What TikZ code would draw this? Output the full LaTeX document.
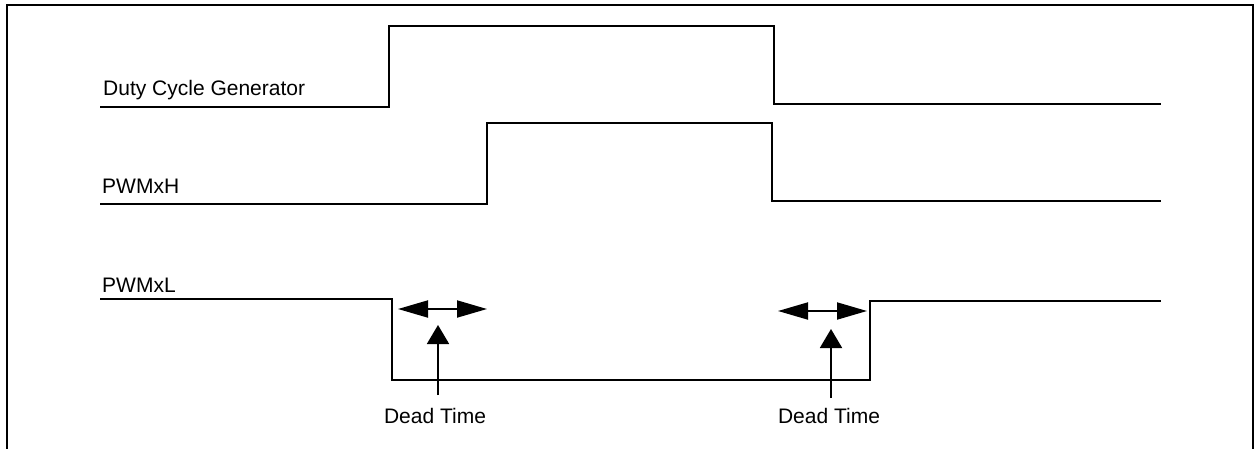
\documentclass[tikz,border=0pt]{standalone}
\usepackage{fontspec}
\setmainfont{Liberation Sans}
\usetikzlibrary{arrows.meta}
\begin{document}
\begin{tikzpicture}[x=1pt,y=-1pt,
  wave/.style={line width=2.8pt,line join=miter},
  frame/.style={line width=2.8pt},
  lbl/.style={anchor=base west,inner sep=0pt,font=\fontsize{21}{25}\selectfont},
  dtlbl/.style={anchor=base,inner sep=0pt,font=\fontsize{21}{25}\selectfont},
  span/.style={line width=1.9pt,{Triangle[length=30pt,width=17pt]}-{Triangle[length=30pt,width=17pt]}},
  pointer/.style={line width=1.9pt,-{Triangle[length=19pt,width=22pt]}}]
\useasboundingbox (0,0) rectangle (1258,448);
\draw[frame] (7,452) -- (7,5) -- (1253,5) -- (1253,452);
% labels
\node[lbl] (dcg) at (103,95) {Duty Cycle Generator};
\node[lbl] (pwmh) at (102,193) {PWMxH};
\node[lbl] (pwml) at (102,292) {PWMxL};
% waveforms
\draw[wave] (100,107) -- (389,107) -- (389,26) -- (774,26) -- (774,104) -- (1161,104);
\draw[wave] (100,204) -- (487,204) -- (487,123) -- (772,123) -- (772,201) -- (1161,201);
\draw[wave] (100,299) -- (392,299) -- (392,380) -- (870,380) -- (870,301) -- (1161,301);
% dead time markers
\coordinate (d1l) at (398,309);
\coordinate (d1r) at (487,309);
\coordinate (d2l) at (778,311);
\coordinate (d2r) at (867,311);
\draw[span] (d1l) -- (d1r);
\draw[span] (d2l) -- (d2r);
\node[dtlbl] (dt1) at (435,423) {Dead Time};
\node[dtlbl] (dt2) at (829,423) {Dead Time};
\coordinate (t1) at (438,325);
\coordinate (t2) at (831,329);
\coordinate (b1) at (438,395);
\coordinate (b2) at (831,398);
\draw[pointer] (b1) -- (t1);
\draw[pointer] (b2) -- (t2);
\end{tikzpicture}
\end{document}
